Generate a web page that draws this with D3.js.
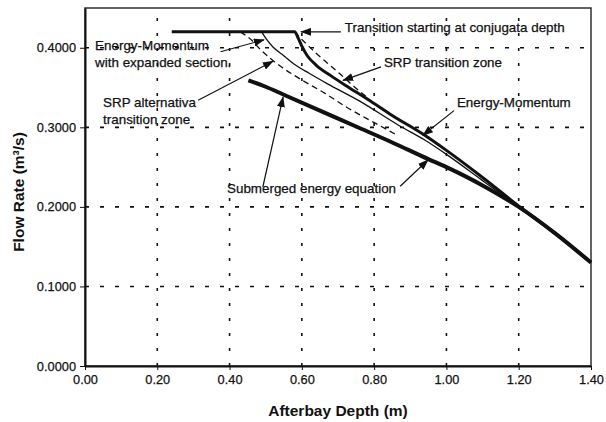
<!DOCTYPE html>
<html>
<head>
<meta charset="utf-8">
<script src="https://cdn.jsdelivr.net/npm/d3@7"></script>
<style>
body { margin: 0; background: #fff; }
svg text { font-family: "Liberation Sans", Arial, sans-serif; fill: #111; }
.grid line { stroke: #111; stroke-width: 1.6; }
.axis path, .axis line { stroke: #111; }
</style>
</head>
<body>
<div id="chart"></div>
<script>
var xTicks = [0, 0.2, 0.4, 0.6, 0.8, 1.0, 1.2, 1.4];
var yTicks = [0, 0.1, 0.2, 0.3, 0.4];

// [afterbay depth (m), flow rate (m3/s)]
var energyMomentum = [
	[0.24, 0.42], [0.58, 0.42], [0.59, 0.412], [0.60, 0.402], [0.615, 0.39],
	[0.64, 0.378], [0.68, 0.365], [0.72, 0.353], [0.78, 0.336], [0.85, 0.315],
	[0.94, 0.29], [1.0, 0.271], [1.1, 0.237], [1.2, 0.201], [1.3, 0.167], [1.4, 0.13]
];
var expandedSection = [
	[0.489, 0.42], [0.50, 0.412], [0.52, 0.401], [0.55, 0.39], [0.58, 0.379],
	[0.62, 0.368], [0.67, 0.355], [0.76, 0.333], [0.87, 0.302], [0.94, 0.284],
	[1.0, 0.266], [1.1, 0.233], [1.2, 0.2]
];
var srpTransition = [
	[0.58, 0.42], [0.59, 0.415], [0.61, 0.406], [0.635, 0.395], [0.67, 0.381],
	[0.706, 0.367], [0.74, 0.353], [0.78, 0.338]
];
var srpAlternative = [
	[0.43, 0.42], [0.46, 0.41], [0.485, 0.398], [0.54, 0.377], [0.58, 0.365],
	[0.67, 0.341], [0.725, 0.325], [0.80, 0.306], [0.86, 0.291]
];
var submergedEnergy = [
	[0.452, 0.359], [0.50, 0.351], [0.55, 0.341], [0.65, 0.321], [0.75, 0.301],
	[0.85, 0.281], [0.95, 0.26], [1.0, 0.25], [1.05, 0.239], [1.1, 0.227],
	[1.15, 0.214], [1.2, 0.2], [1.3, 0.167], [1.4, 0.13]
];

// label lines, text anchor, arrow from -> to (data units)
var notes = [
	{lines: ["Transition starting at conjugata depth"], at: [0.719, 0.420], from: [0.708, 0.420], to: [0.598, 0.420]},
	{lines: ["SRP transition zone"], at: [0.827, 0.376], from: [0.819, 0.376], to: [0.714, 0.359]},
	{lines: ["Energy-Momentum"], at: [1.029, 0.326], from: [1.021, 0.321], to: [0.935, 0.290]},
	{lines: ["Energy-Momentum", "with expanded section."], at: [0.028, 0.397], from: [0.375, 0.395], to: [0.495, 0.410]},
	{lines: ["SRP alternativa", "transition zone"], at: [0.050, 0.325], from: [0.313, 0.334], to: [0.520, 0.383]},
	{lines: ["Submerged energy equation"], at: [0.393, 0.217], from: [0.492, 0.225], to: [0.548, 0.338]},
	{lines: [], at: null, from: [0.872, 0.226], to: [0.949, 0.259]}
];

var margin = {top: 8, right: 15, bottom: 56, left: 85},
	w = 606 - margin.left - margin.right,
	h = 422 - margin.top - margin.bottom;

var svg = d3.select("#chart")
	.append("svg")
	.attr("width", 606)
	.attr("height", 422);

svg.append("defs").append("marker")
	.attr("id", "arrow")
	.attr("markerUnits", "userSpaceOnUse")
	.attr("markerWidth", 11)
	.attr("markerHeight", 8)
	.attr("refX", 10)
	.attr("refY", 4)
	.attr("orient", "auto")
	.append("path")
	.attr("d", "M0,0 L11,4 L0,8 Z")
	.attr("fill", "#111");

var g = svg.append("g")
	.attr("transform", "translate(" + margin.left + "," + margin.top + ")");

/*Scales*/
var xScale = d3.scaleLinear().domain([0, 1.4]).range([0, w]);
var yScale = d3.scaleLinear().domain([0, 0.45]).range([h, 0]);

/*Grid*/
g.append("g")
	.attr("class", "grid")
	.selectAll("line")
	.data(xTicks.slice(1, -1))
	.enter()
	.append("line")
	.attr("x1", function(d) { return xScale(d); })
	.attr("x2", function(d) { return xScale(d); })
	.attr("y1", h)
	.attr("y2", 0)
	.attr("stroke-dasharray", "3,12");
g.append("g")
	.attr("class", "grid")
	.selectAll("line")
	.data(yTicks.slice(1))
	.enter()
	.append("line")
	.attr("x1", 0)
	.attr("x2", w)
	.attr("y1", function(d) { return yScale(d); })
	.attr("y2", function(d) { return yScale(d); })
	.attr("stroke-dasharray", "4,11");

/*Frame*/
g.append("rect")
	.attr("width", w)
	.attr("height", h)
	.attr("fill", "none")
	.attr("stroke", "#222")
	.attr("stroke-width", 1.4);

/*Axes*/
var xAxis = d3.axisBottom(xScale)
	.tickValues(xTicks)
	.tickFormat(d3.format(".2f"))
	.tickSizeInner(4)
	.tickSizeOuter(0)
	.tickPadding(5);
var yAxis = d3.axisLeft(yScale)
	.tickValues(yTicks)
	.tickFormat(d3.format(".4f"))
	.tickSizeInner(5)
	.tickSizeOuter(0)
	.tickPadding(4);

function styleAxis(s) {
	s.select(".domain").attr("stroke-width", 2);
	s.selectAll("text")
		.attr("font-size", 12.8)
		.attr("font-family", null)
		.attr("stroke", "#111")
		.attr("stroke-width", 0.25);
}
g.append("g")
	.attr("class", "axis")
	.attr("transform", "translate(0," + h + ")")
	.call(xAxis)
	.call(styleAxis);
g.append("g")
	.attr("class", "axis")
	.call(yAxis)
	.call(styleAxis);

/*Curves*/
var line = d3.line()
	.curve(d3.curveMonotoneX)
	.x(function(d) { return xScale(d[0]); })
	.y(function(d) { return yScale(d[1]); });

var series = [
	{data: srpTransition, width: 1.3, dash: "6,4"},
	{data: srpAlternative, width: 1.3, dash: "6,4"},
	{data: expandedSection, width: 1.3, dash: null},
	{data: submergedEnergy, width: 4, dash: null},
	{data: energyMomentum, width: 3, dash: null}
];
g.selectAll("path.curve")
	.data(series)
	.enter()
	.append("path")
	.attr("class", "curve")
	.attr("d", function(d) { return line(d.data); })
	.attr("fill", "none")
	.attr("stroke", "#111")
	.attr("stroke-width", function(d) { return d.width; })
	.attr("stroke-dasharray", function(d) { return d.dash; })
	.attr("stroke-linejoin", "round");

/*Annotations*/
g.selectAll("line.arrow")
	.data(notes)
	.enter()
	.append("line")
	.attr("class", "arrow")
	.attr("x1", function(d) { return xScale(d.from[0]); })
	.attr("y1", function(d) { return yScale(d.from[1]); })
	.attr("x2", function(d) { return xScale(d.to[0]); })
	.attr("y2", function(d) { return yScale(d.to[1]); })
	.attr("stroke", "#111")
	.attr("stroke-width", 1.2)
	.attr("marker-end", "url(#arrow)");

var labels = g.selectAll("text.note")
	.data(notes.filter(function(d) { return d.at; }))
	.enter()
	.append("text")
	.attr("class", "note")
	.attr("font-size", 13.4)
	.attr("stroke", "#111")
	.attr("stroke-width", 0.25)
	.attr("x", function(d) { return xScale(d.at[0]); })
	.attr("y", function(d) { return yScale(d.at[1]); })
	.attr("dy", "0.35em");
labels.selectAll("tspan")
	.data(function(d) { return d.lines.map(function(t, i) { return {t: t, x: xScale(d.at[0]), i: i}; }); })
	.enter()
	.append("tspan")
	.attr("x", function(d) { return d.x; })
	.attr("dy", function(d) { return d.i ? "1.22em" : 0; })
	.text(function(d) { return d.t; });

/*Axis titles*/
svg.append("text")
	.attr("x", margin.left + w / 2)
	.attr("y", 416)
	.attr("text-anchor", "middle")
	.attr("font-size", 15.5)
	.attr("font-weight", "bold")
	.text("Afterbay Depth (m)");
svg.append("text")
	.attr("transform", "translate(24," + (margin.top + h / 2 + 5) + ") rotate(-90)")
	.attr("text-anchor", "middle")
	.attr("font-size", 15.5)
	.attr("font-weight", "bold")
	.text("Flow Rate (m³/s)");
</script>
</body>
</html>
